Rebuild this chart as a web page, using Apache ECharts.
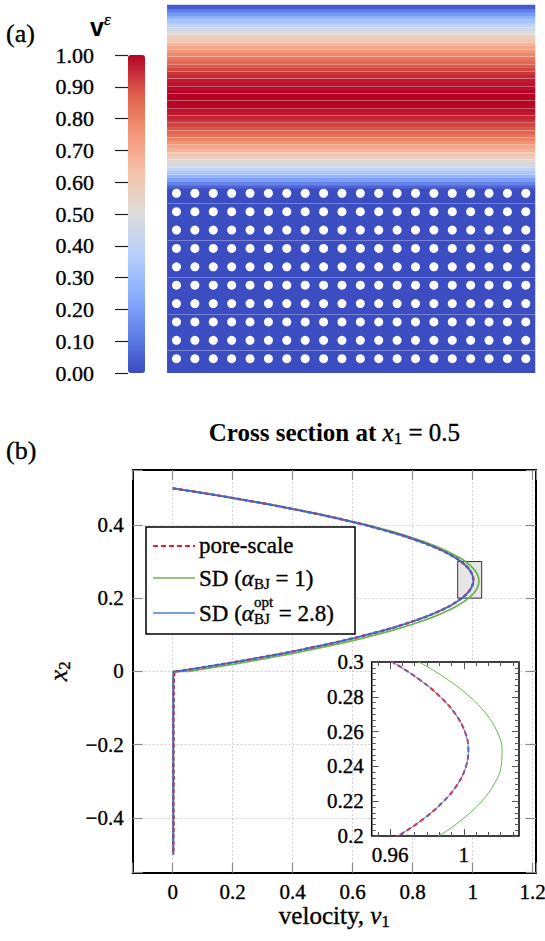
<!DOCTYPE html>
<html>
<head>
<meta charset="utf-8">
<title>Cross section velocity profile</title>
<script src="https://cdn.jsdelivr.net/npm/echarts@6.0.0/dist/echarts.min.js"></script>
<style>
  html, body { margin: 0; padding: 0; background: #fff; }
  #chart { width: 545px; height: 941px; }
</style>
</head>
<body>
<div id="chart"></div>
<script>
const SERIF = "'Liberation Serif', 'DejaVu Serif', serif";
const SANS = "'Liberation Sans', 'DejaVu Sans', sans-serif";
const INK = 0.35; // thin outline that gives the serif glyphs a little more weight

// ---------------- (a) velocity field ----------------
// free-flow rows (x2 of each row centre) and their velocity magnitude
const freeRowCenters = [0.005,0.015,0.025,0.035,0.045,0.055,0.065,0.075,0.085,0.095,
  0.105,0.115,0.125,0.135,0.145,0.155,0.165,0.175,0.185,0.195,
  0.205,0.215,0.225,0.235,0.245,0.255,0.265,0.275,0.285,0.295,
  0.305,0.315,0.325,0.335,0.345,0.355,0.365,0.375,0.385,0.395,
  0.405,0.415,0.425,0.435,0.445,0.455,0.465,0.475,0.485,0.495];
const freeRowVelocity = [0.055,0.131,0.204,0.274,0.340,0.403,0.464,0.521,0.574,0.625,
  0.672,0.717,0.758,0.795,0.830,0.862,0.890,0.915,0.937,0.956,
  0.971,0.984,0.993,0.999,1.000,1.000,0.998,0.991,0.982,0.969,
  0.952,0.933,0.910,0.885,0.856,0.823,0.788,0.750,0.708,0.663,
  0.615,0.564,0.509,0.452,0.391,0.327,0.260,0.190,0.116,0.039];
// porous medium: velocity is practically zero
const porousVelocity = [0.002];
// solid inclusions (centres)
const inclusionCols = [0.025,0.075,0.125,0.175,0.225,0.275,0.325,0.375,0.425,0.475,
  0.525,0.575,0.625,0.675,0.725,0.775,0.825,0.875,0.925,0.975];
const inclusionRows = [-0.012,-0.062,-0.112,-0.162,-0.212,-0.262,-0.312,-0.362,-0.412,-0.462];
// streamlines
const freeStreamlines = [0.46,0.44,0.42,0.40,0.38,0.36,0.34,0.32,0.30,0.28,0.26,
  0.24,0.22,0.20,0.18,0.16,0.14,0.12,0.10,0.08,0.06,0.04];
const porousStreamlines = [-0.04,-0.14,-0.24,-0.34,-0.44];
const COOLWARM = ['#3b4cc0','#6282ea','#8db0fe','#b8d0f9','#dddcdc','#f5c4ac','#f4987a','#de604d','#b40426'];

// ---------------- (b) cross section at x1 = 0.5 ----------------
const x2Free = [0.50,0.49,0.48,0.47,0.46,0.45,0.44,0.43,0.42,0.41,0.40,0.39,0.38,0.37,0.36,
  0.35,0.34,0.33,0.32,0.31,0.30,0.29,0.28,0.27,0.26,0.25,0.24,0.23,0.22,0.21,0.20,
  0.19,0.18,0.17,0.16,0.15,0.14,0.13,0.12,0.11,0.10,0.09,0.08,0.07,0.06,0.05,0.04,
  0.03,0.02,0.01,0.00];
const vPoreScaleFree = [0.000,0.078,0.154,0.225,0.294,0.360,0.422,0.481,0.537,0.590,0.640,
  0.686,0.729,0.770,0.806,0.840,0.871,0.898,0.922,
  0.9433,0.9611,0.9758,0.9872,0.9955,1.0006,1.0025,1.0012,0.9968,0.9891,0.9783,0.9643,0.9471,
  0.927,0.903,0.876,0.847,0.813,0.777,0.738,0.695,0.649,0.600,0.548,0.493,0.434,0.372,
  0.308,0.239,0.168,0.094,0.016];
const vSD1Free = [0.000,0.079,0.155,0.227,0.297,0.363,0.426,0.486,0.543,0.596,0.647,
  0.694,0.738,0.779,0.817,0.851,0.882,0.910,0.935,
  0.9571,0.9757,0.9911,1.0033,1.0123,1.0181,1.0208,1.0203,1.0166,1.0098,0.9997,0.9865,0.9701,
  0.950,0.928,0.902,0.873,0.840,0.805,0.766,0.724,0.679,0.631,0.580,0.525,0.467,0.406,
  0.342,0.275,0.205,0.131,0.054];
const vSDoptFree = [0.000,0.078,0.154,0.225,0.294,0.360,0.422,0.481,0.537,0.590,0.640,
  0.686,0.729,0.770,0.806,0.840,0.871,0.898,0.922,
  0.9433,0.9611,0.9758,0.9872,0.9955,1.0006,1.0025,1.0012,0.9968,0.9891,0.9783,0.9643,0.9471,
  0.927,0.903,0.876,0.847,0.813,0.777,0.738,0.695,0.649,0.600,0.548,0.493,0.434,0.372,
  0.308,0.239,0.168,0.093,0.014];
const x2Porous = [0.00,-0.02,-0.05,-0.10,-0.15,-0.20,-0.25,-0.30,-0.35,-0.40,-0.45,-0.50];
const vPoreScalePorous = [0.006,0.004,0.003,0.003,0.002,0.003,0.002,0.003,0.002,0.003,0.002,0.002];
const vSD1Porous = [0.002,0.002,0.002,0.002,0.002,0.002,0.002,0.002,0.002,0.002,0.002,0.002];
const vSDoptPorous = [0.003,0.002,0.002,0.002,0.002,0.002,0.002,0.002,0.002,0.002,0.002,0.002];

const xRange = [-0.1333, 1.2111];
const yRange = [-0.55, 0.55];
const zoomWindow = { x: [0.95, 1.03], y: [0.2, 0.3] };
const insetXTicks = [0.96, 1.0];
const insetYTicks = [0.2, 0.22, 0.24, 0.26, 0.28, 0.3];

const RED = '#e0202c', GREEN = '#6cb650', BLUE = '#4d7bd9';

// ---------------- helpers ----------------
function profile(vFree, vPorous) {
  return x2Free.map((y, i) => [vFree[i], y]).concat(x2Porous.map((y, i) => [vPorous[i], y]));
}
function minorTicks(majors, lo, hi, parts) {
  const sub = (majors[1] - majors[0]) / parts, out = [];
  let v = majors[0] - sub * Math.floor((majors[0] - lo) / sub + 1e-9);
  for (; v <= hi + 1e-9; v += sub) {
    if (v < lo - 1e-9) continue;
    if (!majors.some(m => Math.abs(m - v) < sub / 10)) out.push(+v.toFixed(5));
  }
  return out;
}
function signed(v) {
  const s = String(+v.toFixed(3));
  return s.charAt(0) === '-' ? '\u2212' + s.slice(1) : s;
}
const serifText = (size, extra) => Object.assign({ fontFamily: SERIF, fontSize: size, color: '#000',
  textBorderColor: '#000', textBorderWidth: INK }, extra || {});
const tickRich = { d: serifText(21) };
const wrap = s => (s === '' ? '' : '{d|' + s + '}');
function majorOnly(v) {
  const k = v / 0.2;
  if (Math.abs(k - Math.round(k)) > 1e-6) return '';
  return wrap(signed(Math.round(k) * 0.2));
}

const measurer = document.createElement('canvas').getContext('2d');
function cssFont(p) {
  return (p.italic ? 'italic ' : '') + (p.bold ? 'bold ' : '') + p.size + 'px ' + (p.family || SERIF);
}
// lay text pieces left to right; a piece marked "stack" shares its x with the next piece
function textRun(pieces, x0, y, center) {
  let adv = 0, hold = 0;
  const placed = pieces.map(p => {
    const font = cssFont(p);
    measurer.font = font;
    const w = measurer.measureText(p.t).width;
    const item = { p, font, x: adv };
    if (p.stack) hold = Math.max(hold, w); else { adv += Math.max(w, hold); hold = 0; }
    return item;
  });
  const start = center ? x0 - adv / 2 : x0;
  return placed.map(({ p, font, x }) => ({
    type: 'text', x: start + x, y: y + (p.dy || 0), z: 100, silent: true,
    style: { text: p.t, font: font, fill: '#000', stroke: p.bold || p.family ? null : '#000',
      lineWidth: INK, textAlign: 'left', textVerticalAlign: 'middle' }
  }));
}

// ---------------- axes ----------------
function mainAxis(dim, pos, primary) {
  const r = dim === 'x' ? xRange : yRange;
  return {
    gridIndex: 0, type: 'value', position: pos, min: r[0], max: r[1],
    splitNumber: dim === 'x' ? 6 : 5, z: 0,
    axisLine: { show: true, onZero: false, lineStyle: { color: '#000', width: 2 } },
    axisTick: { show: true, inside: true, length: 10, lineStyle: { color: '#8c8c8c', width: 1.2 } },
    axisLabel: primary ? { show: true, margin: 9, formatter: majorOnly, rich: tickRich } : { show: false },
    splitLine: primary ? { show: true, showMinLine: false, showMaxLine: false,
      lineStyle: { color: '#c4c4c4', width: 1, type: [1.5, 2.5] } } : { show: false }
  };
}
function insetAxis(dim, pos, values, len, labels) {
  const r = dim === 'x' ? zoomWindow.x : zoomWindow.y;
  return {
    gridIndex: 1, type: 'value', position: pos, min: r[0], max: r[1], z: 3,
    axisLine: { show: false, onZero: false },
    axisTick: { show: true, inside: true, length: len, customValues: values,
      lineStyle: { color: '#555', width: 1 } },
    axisLabel: labels ? { show: true, customValues: values, margin: 8, rich: tickRich,
      formatter: v => wrap(String(+v.toFixed(3))) } : { show: false },
    splitLine: { show: false }
  };
}
function hiddenAxis(grid, cfg) {
  return Object.assign({ gridIndex: grid, show: false, axisLine: { onZero: false },
    splitLine: { show: false } }, cfg);
}
const insetXMinor = minorTicks(insetXTicks, zoomWindow.x[0], zoomWindow.x[1], 6);
const insetYMinor = minorTicks(insetYTicks, zoomWindow.y[0], zoomWindow.y[1], 6);

const xName = {
  name: '{n|velocity, }{i|v}{s|1}', nameLocation: 'middle', nameGap: 29, nameMoveOverlap: false,
  nameTextStyle: { fontFamily: SERIF, fontSize: 25, color: '#000', rich: {
    n: serifText(25),
    i: serifText(25, { fontStyle: 'italic' }),
    s: serifText(17, { padding: [11, 0, 0, 0] }) } }
};
const yName = {
  name: '{i|x}{s|2}', nameLocation: 'middle', nameGap: 60, nameRotate: 90, nameMoveOverlap: false,
  nameTextStyle: { fontFamily: SERIF, fontSize: 26, color: '#000', rich: {
    i: serifText(26, { fontStyle: 'italic' }),
    s: serifText(17, { padding: [11, 0, 0, 0] }) } }
};

const xAxes = [
  Object.assign(mainAxis('x', 'bottom', true), xName),
  mainAxis('x', 'top', false),
  insetAxis('x', 'bottom', insetXTicks, 7, true),
  insetAxis('x', 'top', insetXTicks, 7, false),
  insetAxis('x', 'bottom', insetXMinor, 4, false),
  insetAxis('x', 'top', insetXMinor, 4, false),
  hiddenAxis(2, { type: 'value', min: 0, max: 1 }),
  hiddenAxis(3, { type: 'category', data: ['x1'] }),
  hiddenAxis(4, { type: 'category', data: ['x1'] }),
  hiddenAxis(5, { type: 'value', min: 0, max: 1 })
];
const yAxes = [
  Object.assign(mainAxis('y', 'left', true), yName),
  mainAxis('y', 'right', false),
  insetAxis('y', 'left', insetYTicks, 7, true),
  insetAxis('y', 'right', insetYTicks, 7, false),
  insetAxis('y', 'left', insetYMinor, 4, false),
  insetAxis('y', 'right', insetYMinor, 4, false),
  { gridIndex: 2, type: 'value', position: 'left', min: 0, max: 1, interval: 0.1, z: 5,
    axisLine: { show: false, onZero: false },
    axisTick: { show: true, inside: false, length: 13, lineStyle: { color: '#222', width: 1.2 } },
    axisLabel: { margin: 34, formatter: v => '{c|' + v.toFixed(2) + '}', rich: { c: serifText(22) } },
    splitLine: { show: false } },
  hiddenAxis(3, { type: 'category', data: freeRowCenters.map(String) }),
  hiddenAxis(4, { type: 'category', data: ['porous'] }),
  hiddenAxis(5, { type: 'value', min: -0.5, max: 0.5 })
];

const lineSeries = (xi, yi, data, color, width, dash, z, smooth) => ({
  type: 'line', xAxisIndex: xi, yAxisIndex: yi, data: data, symbol: 'none', showSymbol: false,
  silent: true, clip: true, z: z, smooth: smooth || false,
  lineStyle: { color: color, width: width, type: dash || 'solid' }
});

const poreData = profile(vPoreScaleFree, vPoreScalePorous);
const sd1Data = profile(vSD1Free, vSD1Porous);
const sdOptData = profile(vSDoptFree, vSDoptPorous);

// ---------------- decorations (panel tags, titles, legend) ----------------
const graphics = [].concat(
  textRun([{ t: '(a)', size: 26 }], 6, 33),
  textRun([{ t: '(b)', size: 26 }], 6, 450),
  textRun([{ t: 'v', size: 25, bold: true, family: SANS }, { t: '\u03b5', size: 17, italic: true, dy: -8 }], 90, 27),
  textRun([{ t: 'Cross section at ', size: 25, bold: true }, { t: 'x', size: 25, italic: true },
    { t: '1', size: 17, dy: 6 }, { t: ' = 0.5', size: 25 }], 334.4, 432, true),
  [
    { type: 'rect', z: 99, silent: true, shape: { x: 146, y: 527, width: 209, height: 107 },
      style: { fill: '#fff', stroke: '#000', lineWidth: 1.5 } },
    { type: 'line', z: 100, silent: true, shape: { x1: 153, y1: 546, x2: 195, y2: 546 },
      style: { stroke: RED, lineWidth: 2, lineDash: [5, 3] } },
    { type: 'line', z: 100, silent: true, shape: { x1: 153, y1: 578, x2: 195, y2: 578 },
      style: { stroke: GREEN, lineWidth: 1.5 } },
    { type: 'line', z: 100, silent: true, shape: { x1: 153, y1: 613, x2: 195, y2: 613 },
      style: { stroke: BLUE, lineWidth: 1.5 } }
  ],
  textRun([{ t: 'pore-scale', size: 23 }], 199, 545),
  textRun([{ t: 'SD (', size: 23 }, { t: '\u03b1', size: 23, italic: true }, { t: 'BJ', size: 15, dy: 6 },
    { t: ' = 1)', size: 23 }], 199, 578),
  textRun([{ t: 'SD (', size: 23 }, { t: '\u03b1', size: 23, italic: true },
    { t: 'opt', size: 15, dy: -11, stack: true }, { t: 'BJ', size: 15, dy: 6 },
    { t: ' = 2.8)', size: 23 }], 199, 613)
);

const option = {
  animation: false,
  backgroundColor: '#fff',
  grid: [
    { left: 132.7, top: 470, width: 403.3, height: 402.7, show: false, containLabel: false, outerBoundsMode: 'none' },
    { left: 371.7, top: 662, width: 147.3, height: 174, show: true, z: 2, backgroundColor: '#fff',
      borderColor: '#000', borderWidth: 1.5, containLabel: false, outerBoundsMode: 'none' },
    { left: 128, top: 55, width: 17, height: 318, show: false, containLabel: false, outerBoundsMode: 'none' },
    { left: 167.3, top: 5, width: 367.7, height: 183.85, show: false, containLabel: false, outerBoundsMode: 'none' },
    { left: 167.3, top: 188.85, width: 367.7, height: 183.85, show: false, containLabel: false, outerBoundsMode: 'none' },
    { left: 167.3, top: 5, width: 367.7, height: 367.7, show: false, containLabel: false, outerBoundsMode: 'none' }
  ],
  xAxis: xAxes,
  yAxis: yAxes,
  visualMap: {
    type: 'continuous', min: 0, max: 1, seriesIndex: [0, 1], calculable: false, hoverLink: false,
    orient: 'vertical', left: 128, top: 55, itemWidth: 17, itemHeight: 318, padding: 0,
    text: null, inRange: { color: COOLWARM }
  },
  series: [
    { type: 'heatmap', xAxisIndex: 7, yAxisIndex: 7, silent: true, emphasis: { disabled: true },
      itemStyle: { borderWidth: 0 }, data: freeRowVelocity.map((v, i) => [0, i, v]) },
    { type: 'heatmap', xAxisIndex: 8, yAxisIndex: 8, silent: true, emphasis: { disabled: true },
      itemStyle: { borderWidth: 0 }, data: porousVelocity.map((v, i) => [0, i, v]) },
    { type: 'scatter', xAxisIndex: 9, yAxisIndex: 9, silent: true, symbol: 'circle', symbolSize: 9,
      itemStyle: { color: '#fff', opacity: 1 },
      data: inclusionRows.flatMap(y => inclusionCols.map(x => [x, y])),
      markLine: { silent: true, symbol: ['none', 'none'], label: { show: false }, animation: false,
        lineStyle: { color: '#fff', opacity: 0.3, width: 1, type: 'solid' },
        data: freeStreamlines.concat(porousStreamlines).map(y => ({ yAxis: y })) } },
    lineSeries(0, 0, sd1Data, GREEN, 1.8, null, 2),
    lineSeries(0, 0, poreData, RED, 2.4, [4, 2.5], 3),
    lineSeries(0, 0, sdOptData, '#3f69c8', 1.8, null, 4),
    { type: 'line', xAxisIndex: 0, yAxisIndex: 0, data: [], silent: true, z: 1,
      markArea: { silent: true, z: 1, itemStyle: { color: '#e6e6e6', borderColor: '#333', borderWidth: 1 },
        data: [[{ coord: [zoomWindow.x[0], zoomWindow.y[0]] }, { coord: [zoomWindow.x[1], zoomWindow.y[1]] }]] } },
    lineSeries(2, 2, sd1Data, GREEN, 1, null, 4, 0.4),
    lineSeries(2, 2, poreData, RED, 2, [5, 3], 5, 0.4),
    lineSeries(2, 2, sdOptData, BLUE, 1, null, 6, 0.4)
  ],
  graphic: { elements: graphics }
};

const chart = echarts.init(document.getElementById('chart'), null, { renderer: 'svg', width: 545, height: 941 });
chart.setOption(option);
</script>
</body>
</html>
